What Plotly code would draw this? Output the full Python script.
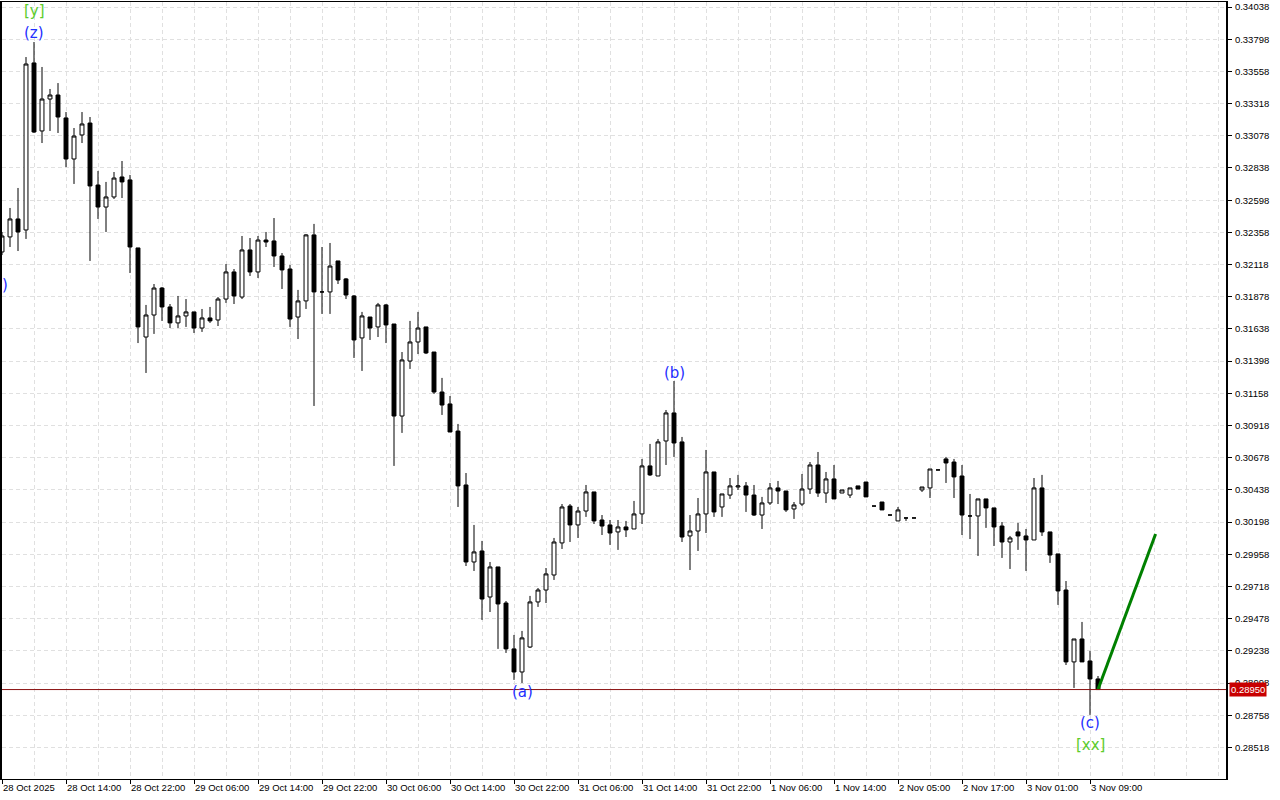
import plotly.graph_objects as go

# ---- data (hourly bars, index 0..137) ----
bar_idx = list(range(138))

opens = [0.32212, 0.32324, 0.32458, 0.32376, 0.33621, 0.33114, 0.33352, 0.33382, 0.33211, 0.32905,
         0.33084, 0.33173, 0.32711, 0.32547, 0.32622, 0.32771, 0.32749, 0.32242, 0.31578, 0.31742,
         0.31943, 0.31802, 0.31683, 0.31735, 0.31765, 0.31645, 0.31720, 0.31705, 0.31861, 0.32063,
         0.31876, 0.32227, 0.32063, 0.32301, 0.32294, 0.32182, 0.32085, 0.31727, 0.31847, 0.32339,
         0.31914, 0.31914, 0.32145, 0.32011, 0.31884, 0.31571, 0.31727, 0.31653, 0.31817, 0.31675,
         0.30989, 0.31399, 0.31541, 0.31653, 0.31466, 0.31168, 0.31079, 0.30877, 0.30475, 0.29901,
         0.29983, 0.29640, 0.29864, 0.29595, 0.29253, 0.29081, 0.29267, 0.29603, 0.29692, 0.29804,
         0.30043, 0.30318, 0.30177, 0.30281, 0.30423, 0.30214, 0.30177, 0.30125, 0.30162, 0.30147,
         0.30259, 0.30617, 0.30542, 0.30803, 0.31012, 0.30796, 0.30095, 0.30132, 0.30259, 0.30572,
         0.30311, 0.30400, 0.30460, 0.30468, 0.30400, 0.30251, 0.30341, 0.30453, 0.30430, 0.30296,
         0.30333, 0.30445, 0.30624, 0.30415, 0.30520, 0.30415, 0.30400, 0.30468, 0.30497, 0.30318,
         0.30348, 0.30251, 0.30207, 0.30229, 0.30229, 0.30438, 0.30453, 0.30587, 0.30669, 0.30646,
         0.30542, 0.30244, 0.30244, 0.30371, 0.30304, 0.30169, 0.30050, 0.30125, 0.30095, 0.30065,
         0.30453, 0.30125, 0.29961, 0.29692, 0.29156, 0.29327, 0.29163, 0.29029]

highs = [0.32361, 0.32540, 0.32689, 0.33665, 0.33777, 0.33591, 0.33427, 0.33471, 0.33255, 0.33136,
         0.33255, 0.33218, 0.32816, 0.32734, 0.32808, 0.32890, 0.32786, 0.32242, 0.31817, 0.31973,
         0.31951, 0.31824, 0.31884, 0.31861, 0.31765, 0.31787, 0.31802, 0.31876, 0.32122, 0.32085,
         0.32331, 0.32316, 0.32331, 0.32361, 0.32465, 0.32204, 0.32115, 0.31929, 0.32345, 0.32421,
         0.32249, 0.32279, 0.32145, 0.32018, 0.31891, 0.31765, 0.31727, 0.31832, 0.31824, 0.31675,
         0.31466, 0.31698, 0.31765, 0.31653, 0.31466, 0.31273, 0.31138, 0.30930, 0.30564, 0.30177,
         0.30058, 0.29901, 0.29864, 0.29610, 0.29357, 0.29387, 0.29648, 0.29707, 0.29856, 0.30080,
         0.30333, 0.30333, 0.30311, 0.30475, 0.30423, 0.30251, 0.30214, 0.30214, 0.30207, 0.30356,
         0.30669, 0.30781, 0.30818, 0.31034, 0.31250, 0.30833, 0.30251, 0.30378, 0.30736, 0.30572,
         0.30408, 0.30527, 0.30550, 0.30497, 0.30475, 0.30386, 0.30490, 0.30505, 0.30430, 0.30348,
         0.30557, 0.30646, 0.30721, 0.30572, 0.30624, 0.30438, 0.30453, 0.30468, 0.30497, 0.30318,
         0.30348, 0.30251, 0.30311, 0.30229, 0.30229, 0.30460, 0.30594, 0.30587, 0.30684, 0.30669,
         0.30624, 0.30408, 0.30371, 0.30371, 0.30304, 0.30199, 0.30095, 0.30192, 0.30147, 0.30527,
         0.30550, 0.30125, 0.29961, 0.29759, 0.29327, 0.29454, 0.29238, 0.29051]

lows = [0.32189, 0.32249, 0.32219, 0.32309, 0.33099, 0.33024, 0.33114, 0.33099, 0.32845, 0.32719,
        0.33024, 0.32145, 0.32458, 0.32361, 0.32607, 0.32614, 0.32055, 0.31533, 0.31310, 0.31601,
        0.31698, 0.31645, 0.31645, 0.31653, 0.31608, 0.31616, 0.31683, 0.31660, 0.31832, 0.31824,
        0.31861, 0.32033, 0.32018, 0.32249, 0.32100, 0.31936, 0.31653, 0.31563, 0.31787, 0.31064,
        0.31750, 0.31750, 0.31973, 0.31861, 0.31422, 0.31325, 0.31556, 0.31578, 0.31533, 0.30617,
        0.30863, 0.31340, 0.31451, 0.31451, 0.31153, 0.30997, 0.30870, 0.30311, 0.29871, 0.29834,
        0.29469, 0.29528, 0.29253, 0.29223, 0.29022, 0.28999, 0.29260, 0.29566, 0.29595, 0.29767,
        0.29998, 0.30050, 0.30080, 0.30237, 0.30184, 0.30102, 0.30028, 0.29991, 0.30087, 0.30147,
        0.30184, 0.30542, 0.30542, 0.30624, 0.30684, 0.30050, 0.29841, 0.29983, 0.30117, 0.30237,
        0.30237, 0.30371, 0.30438, 0.30274, 0.30244, 0.30147, 0.30326, 0.30333, 0.30274, 0.30222,
        0.30318, 0.30408, 0.30386, 0.30341, 0.30371, 0.30415, 0.30378, 0.30445, 0.30386, 0.30318,
        0.30289, 0.30251, 0.30207, 0.30207, 0.30229, 0.30423, 0.30378, 0.30587, 0.30490, 0.30378,
        0.30102, 0.30072, 0.29946, 0.30155, 0.30020, 0.29931, 0.29849, 0.29991, 0.29834, 0.30065,
        0.30095, 0.29894, 0.29581, 0.29133, 0.28962, 0.29156, 0.28761, 0.28950]

closes = [0.32331, 0.32458, 0.32361, 0.33613, 0.33106, 0.33352, 0.33382, 0.33218, 0.32905, 0.33076,
          0.33166, 0.32704, 0.32547, 0.32622, 0.32763, 0.32734, 0.32249, 0.31653, 0.31742, 0.31943,
          0.31802, 0.31683, 0.31735, 0.31765, 0.31645, 0.31720, 0.31698, 0.31861, 0.32063, 0.31884,
          0.32227, 0.32063, 0.32301, 0.32286, 0.32182, 0.32078, 0.31712, 0.31847, 0.32339, 0.31914,
          0.31914, 0.32107, 0.32003, 0.31891, 0.31556, 0.31735, 0.31645, 0.31817, 0.31668, 0.30989,
          0.31407, 0.31541, 0.31645, 0.31459, 0.31168, 0.31071, 0.30870, 0.30468, 0.29901, 0.29976,
          0.29625, 0.29864, 0.29588, 0.29253, 0.29081, 0.29335, 0.29603, 0.29692, 0.29812, 0.30050,
          0.30311, 0.30177, 0.30281, 0.30423, 0.30207, 0.30169, 0.30117, 0.30162, 0.30140, 0.30259,
          0.30617, 0.30550, 0.30796, 0.31012, 0.30788, 0.30087, 0.30132, 0.30259, 0.30572, 0.30274,
          0.30408, 0.30468, 0.30468, 0.30400, 0.30251, 0.30341, 0.30453, 0.30430, 0.30289, 0.30326,
          0.30445, 0.30624, 0.30415, 0.30520, 0.30371, 0.30438, 0.30453, 0.30445, 0.30386, 0.30318,
          0.30289, 0.30251, 0.30289, 0.30229, 0.30229, 0.30460, 0.30594, 0.30587, 0.30639, 0.30535,
          0.30251, 0.30244, 0.30371, 0.30304, 0.30162, 0.30050, 0.30080, 0.30095, 0.30065, 0.30453,
          0.30125, 0.29953, 0.29685, 0.29156, 0.29327, 0.29156, 0.29029, 0.28950]

x_tick_bars = [0, 8, 16, 24, 32, 40, 48, 56, 64, 72, 80, 88, 96, 104, 112, 120, 128, 136]
x_tick_labels = ["28 Oct 2025", "28 Oct 14:00", "28 Oct 22:00", "29 Oct 06:00", "29 Oct 14:00",
                 "29 Oct 22:00", "30 Oct 06:00", "30 Oct 14:00", "30 Oct 22:00", "31 Oct 06:00",
                 "31 Oct 14:00", "31 Oct 22:00", "1 Nov 06:00", "1 Nov 14:00", "2 Nov 05:00",
                 "2 Nov 17:00", "3 Nov 01:00", "3 Nov 09:00"]

y_tick_vals = [0.28518, 0.28758, 0.28998, 0.29238, 0.29478, 0.29718, 0.29958, 0.30198, 0.30438,
               0.30678, 0.30918, 0.31158, 0.31398, 0.31638, 0.31878, 0.32118, 0.32358, 0.32598,
               0.32838, 0.33078, 0.33318, 0.33558, 0.33798, 0.34038]

current_price = 0.28950

# projection line (bar index, price)
proj_x = [137, 144.2]
proj_y = [0.28950, 0.30110]

# wave labels: text, bar, price, colour
wave_text = ["[y]", "(z)", ")", "(a)", "(b)", "(c)", "[xx]"]
wave_bar = [4.1, 4.0, 0.35, 65, 84, 136, 136]
wave_price = [0.34011, 0.33844, 0.31966, 0.28932, 0.31307, 0.28698, 0.28533]
wave_color = ["#5ccc2c", "#1f2fff", "#1f2fff", "#1f2fff", "#1f2fff", "#1f2fff", "#5ccc2c"]

x_range = [0, 153]
y_range = [0.282832, 0.340753]

fig = go.Figure()

fig.add_trace(go.Candlestick(
    x=bar_idx, open=opens, high=highs, low=lows, close=closes,
    increasing=dict(line=dict(color="black", width=1), fillcolor="white"),
    decreasing=dict(line=dict(color="black", width=1), fillcolor="black"),
    whiskerwidth=0, showlegend=False, hoverinfo="skip",
))

fig.add_trace(go.Scatter(
    x=proj_x, y=proj_y, mode="lines",
    line=dict(color="#008000", width=3), showlegend=False, hoverinfo="skip",
))

fig.add_shape(type="line", xref="paper", yref="y", x0=0, x1=1,
              y0=current_price, y1=current_price,
              line=dict(color="#8a1010", width=1), layer="above")

for t, bx, py, c in zip(wave_text, wave_bar, wave_price, wave_color):
    fig.add_annotation(x=bx, y=py, text=t, showarrow=False,
                       font=dict(family="DejaVu Sans", size=15, color=c))

fig.add_annotation(xref="paper", yref="y", x=1, y=current_price, xanchor="left",
                   yanchor="middle", xshift=3, text="0.28950", showarrow=False,
                   bgcolor="#c80000", borderpad=1,
                   font=dict(family="Liberation Sans", size=9.5, color="white"))

grid_dash = "4px,3px"
grid_col = "#e0e0e0"

fig.update_layout(
    width=1280, height=800,
    margin=dict(l=2, r=54, t=2, b=21, autoexpand=False),
    paper_bgcolor="white", plot_bgcolor="white",
    showlegend=False,
    font=dict(family="Liberation Sans", size=9.5, color="black"),
    xaxis=dict(
        range=x_range, rangeslider=dict(visible=False),
        tickmode="array", tickvals=x_tick_bars, ticktext=x_tick_labels,
        ticks="outside", ticklen=4, tickcolor="black", tickwidth=1,
        ticklabelposition="outside right",
        showgrid=True, gridcolor=grid_col, griddash=grid_dash, gridwidth=1,
        minor=dict(dtick=4, tick0=0, showgrid=True, gridcolor=grid_col,
                   griddash=grid_dash, ticks=""),
        showline=True, linecolor="black", linewidth=1, mirror=True,
        zeroline=False, fixedrange=True, automargin=False,
        tickfont=dict(family="Liberation Sans", size=9.5, color="black"),
    ),
    yaxis=dict(
        range=y_range, side="right",
        tickmode="array", tickvals=y_tick_vals,
        ticktext=[f"{v:.5f}" for v in y_tick_vals],
        ticks="outside", ticklen=4, tickcolor="black", tickwidth=1,
        ticklabelstandoff=1,
        showgrid=True, gridcolor=grid_col, griddash=grid_dash, gridwidth=1,
        showline=True, linecolor="black", linewidth=2, mirror=True,
        zeroline=False, fixedrange=True, automargin=False,
        tickfont=dict(family="Liberation Sans", size=9.5, color="black"),
    ),
)

fig.write_html("out.html", config={"displayModeBar": False},
               post_script="document.body.style.margin='0';document.body.style.overflow='hidden';")
